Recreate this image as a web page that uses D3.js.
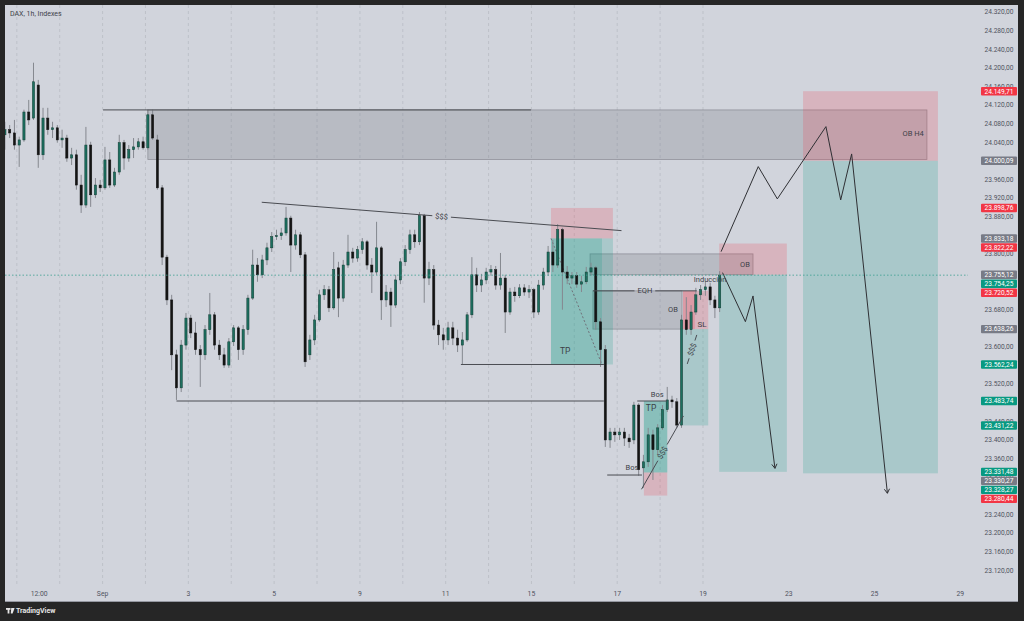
<!DOCTYPE html>
<html>
<head>
<meta charset="utf-8">
<script src="https://cdn.jsdelivr.net/npm/d3@7"></script>
<style>
  body { margin: 0; background: #262626; }
  svg { display: block; font-family: Roboto, "Liberation Sans", sans-serif; }
</style>
</head>
<body>
<svg id="chart" width="1024" height="621"></svg>
<script>
// DAX 1h candles (bar index = trading hour, 9 bars per session)
var opens = [
  24056,24067,24060,24034,24045,24105,24092,24163,24013,24092,
  24067,24071,24045,24049,24006,24013,23948,23905,24034,23927,
  23948,23942,24002,23948,23976,24039,24006,24024,24030,24041,
  24028,24099,24045,23942,23793,23701,23583,23512,23604,23662,
  23630,23594,23583,23637,23669,23604,23583,23561,23611,23641,
  23594,23637,23705,23776,23755,23787,23813,23837,23839,23845,
  23877,23819,23841,23798,23583,23615,23658,23712,23723,23684,
  23770,23705,23776,23804,23791,23809,23826,23776,23761,23813,
  23701,23718,23690,23744,23783,23809,23841,23826,23882,23748,
  23766,23647,23626,23615,23641,23619,23604,23615,23669,23755,
  23733,23744,23761,23766,23733,23748,23675,23718,23710,23727,
  23718,23723,23675,23733,23761,23804,23776,23852,23761,23748,
  23753,23735,23740,23761,23770,23654,23594,23400,23417,23411,
  23417,23404,23400,23475,23340,23353,23411,23379,23426,23465,
  23486,23482,23432,23658,23637,23675,23712,23723,23729,23701,
  23684];
var highs = [
  24084,24077,24088,24052,24110,24131,24211,24174,24114,24114,
  24084,24077,24067,24056,24028,24024,23970,24073,24041,23963,
  23959,24030,24019,23985,24056,24045,24034,24049,24049,24052,
  24110,24110,24056,23948,23798,23712,23594,23615,23673,23669,
  23654,23604,23647,23716,23675,23615,23598,23619,23647,23645,
  23647,23712,23809,23791,23798,23824,23847,23852,23856,23901,
  23882,23852,23847,23804,23626,23669,23723,23733,23731,23804,
  23783,23787,23841,23813,23817,23834,23830,23791,23869,23817,
  23733,23727,23755,23791,23819,23852,23852,23890,23886,23783,
  23776,23658,23641,23654,23654,23637,23632,23675,23793,23770,
  23757,23770,23776,23774,23802,23755,23727,23729,23735,23735,
  23733,23727,23744,23770,23817,23830,23864,23856,23774,23761,
  23761,23753,23772,23781,23774,23662,23604,23426,23426,23426,
  23426,23413,23482,23479,23368,23426,23422,23434,23475,23514,
  23495,23490,23669,23707,23690,23727,23733,23740,23738,23710,
  23763];
var lows = [
  24024,24049,24024,23987,24041,24077,24088,23985,24002,24056,
  24049,24039,24028,23998,23991,23938,23888,23899,23901,23920,
  23933,23938,23942,23944,23970,23981,23998,24006,24024,24024,
  24024,24045,23938,23776,23690,23550,23486,23503,23594,23619,
  23583,23514,23572,23626,23594,23572,23555,23555,23602,23572,
  23583,23626,23701,23740,23748,23776,23804,23830,23830,23839,
  23761,23809,23791,23557,23572,23604,23654,23701,23675,23680,
  23664,23697,23770,23781,23783,23800,23766,23716,23755,23658,
  23686,23643,23684,23735,23774,23800,23813,23819,23695,23733,
  23637,23604,23594,23604,23604,23589,23563,23611,23662,23718,
  23718,23735,23753,23723,23723,23630,23669,23697,23705,23710,
  23705,23662,23669,23723,23753,23761,23770,23680,23735,23735,
  23727,23718,23735,23753,23637,23557,23385,23383,23396,23400,
  23387,23383,23391,23323,23297,23342,23314,23368,23422,23460,
  23469,23426,23426,23626,23626,23669,23701,23710,23690,23662,
  23675];
var closes = [
  24067,24060,24034,24045,24105,24088,24170,24013,24092,24067,
  24071,24045,24049,24006,24013,23948,23905,24034,23927,23948,
  23942,24002,23948,23976,24039,24006,24024,24030,24041,24028,
  24099,24049,23942,23793,23701,23583,23512,23604,23662,23630,
  23594,23583,23637,23669,23604,23583,23561,23611,23641,23594,
  23637,23705,23776,23755,23787,23813,23837,23839,23845,23877,
  23819,23841,23798,23568,23615,23658,23712,23723,23684,23766,
  23705,23776,23804,23791,23809,23826,23776,23761,23813,23701,
  23718,23690,23744,23783,23809,23841,23826,23882,23748,23766,
  23647,23626,23615,23641,23619,23604,23615,23669,23755,23733,
  23744,23761,23766,23733,23748,23675,23718,23710,23727,23718,
  23723,23675,23733,23761,23804,23776,23852,23761,23748,23753,
  23735,23740,23761,23770,23654,23594,23400,23417,23411,23417,
  23404,23396,23475,23336,23353,23411,23379,23426,23465,23486,
  23482,23432,23658,23637,23675,23712,23723,23729,23701,23684,
  23754.25];
var lastPrice = 23754.25;

// session breaks and time axis labels (in bar units)
var dayBreaks = [2.5, 11.5, 20.5, 29.5, 38.5, 47.5, 56.5, 65.5, 74.5, 83.5, 92.5, 101.5, 110.5, 119.5, 128.5, 137.5, 146.5];
var timeLabels = ["12:00", "Sep", "3", "5", "9", "11", "15", "17", "19", "23", "25", "29"];
var timeLabelBars = [7.2, 20.5, 38.5, 56.5, 74.5, 92.5, 110.5, 128.5, 146.5, 164.5, 182.5, 200.5];

var priceTicks = [24320, 24280, 24240, 24200, 24160, 24120, 24080, 24040, 24000, 23960, 23920,
  23880, 23840, 23800, 23760, 23720, 23680, 23640, 23600, 23560, 23520, 23480, 23440, 23400,
  23360, 23320, 23280, 23240, 23200, 23160, 23120];

// price labels on the right scale
var tagPrices = [24149.71, 24000.09, 23898.76, 23833.18, 23822.22, 23755.12, 23754.25, 23720.52,
  23638.26, 23562.24, 23483.74, 23431.22, 23331.48, 23330.27, 23328.27, 23280.44];
var tagKinds = ["stop", "entry", "stop", "entry", "stop", "entry", "last", "stop",
  "entry", "target", "target", "target", "target", "entry", "target", "stop"];

// drawings, in bar / price units
var grayZones = [
  {x1: 30, x2: 193.5, p1: 24003, p2: 24109.5},
  {x1: 122.8, x2: 157, p1: 23755.12, p2: 23800},
  {x1: 123.4, x2: 142.1, p1: 23638.26, p2: 23720.52}
];
var positions = [
  {x1: 114.6, x2: 127.6, stop: 23898.76, entry: 23833.18, target: 23562.24, closeBar: 125.3, hit: "target", path: true},
  {x1: 134.1, x2: 139, stop: 23280.44, entry: 23330.27, target: 23483.74, closeBar: 139, hit: "target"},
  {x1: 142.3, x2: 147.6, stop: 23720.52, entry: 23638.26, target: 23431.22, closeBar: 144.8, hit: "stop"},
  {x1: 149.9, x2: 164.1, stop: 23822.22, entry: 23755.12, target: 23331.48},
  {x1: 167.5, x2: 195.8, stop: 24149.71, entry: 24000.09, target: 23328.27}
];
var lines = [
  {x1: 20.6, p1: 24109.5, x2: 110.4, p2: 24109.5},
  {x1: 53.9, p1: 23911, x2: 129.4, p2: 23850, label: "$$$"},
  {x1: 36, p1: 23483.74, x2: 125.7, p2: 23483.74},
  {x1: 95.7, p1: 23562.24, x2: 125.7, p2: 23562.24},
  {x1: 123.4, p1: 23720.52, x2: 145.2, p2: 23720.52, label: "EQH"},
  {x1: 132.7, p1: 23483.74, x2: 139, p2: 23483.74},
  {x1: 126.4, p1: 23324.6, x2: 133.7, p2: 23324.6},
  {x1: 133.6, p1: 23294, x2: 142.4, p2: 23451.6, label: "$$$"},
  {x1: 143.2, p1: 23563.4, x2: 145.2, p2: 23625.8, label: "$$$"}
];
var pathLong = [[150.3, 23804.8], [158.1, 23987.6], [162.1, 23918.2], [172.3, 24073.6],
  [175.4, 23916], [177.7, 24014.9], [185.2, 23285.4]];
var pathShort = [[150.6, 23759.7], [155.4, 23654.3], [157, 23709.6], [161.6, 23339]];
var notes = [
  {text: "TP", bar: 117.6, price: 23591, size: 8.5},
  {text: "TP", bar: 135.6, price: 23469, size: 8.5},
  {text: "OB", bar: 155.3, price: 23778, size: 7.5},
  {text: "OB", bar: 140.2, price: 23681, size: 7.5},
  {text: "SL", bar: 146.3, price: 23649, size: 8},
  {text: "Bos", bar: 136.9, price: 23497, size: 7.5},
  {text: "Bos", bar: 131.6, price: 23340, size: 7.5},
  {text: "OB H4", bar: 190.6, price: 24058, size: 7.5},
  {text: "Inducción", bar: 148, price: 23746, size: 7.5}
];

var svg = d3.select("#chart");
var x = d3.scaleLinear().domain([0, 200.5]).range([4.9, 960.3]);
var y = d3.scaleLinear().domain([23120, 24320]).range([570.2, 12]);
var de = d3.formatLocale({decimal: ",", thousands: ".", grouping: [3], currency: ["", ""]});
var fmt = de.format(",.2f");

var pinkFill = "rgba(242,54,69,0.2)";
var tealFill = "rgba(8,153,129,0.2)";
var lineColor = "#4a4c52";
var textColor = "#3d3f47";

// panel
svg.append("rect").attr("width", 1024).attr("height", 621).attr("fill", "#262626");
svg.append("rect").attr("x", 5).attr("y", 5).attr("width", 1013).attr("height", 597).attr("fill", "#d1d4dc");
svg.append("line").attr("x1", 5).attr("x2", 1018).attr("y1", 601.5).attr("y2", 601.5)
  .attr("stroke", "#9598a1").attr("stroke-width", 1);

svg.append("defs").append("clipPath").attr("id", "plotClip")
  .append("rect").attr("x", 5).attr("y", 5).attr("width", 963).attr("height", 576);

// session grid
svg.selectAll("line.grid").data(dayBreaks).enter().append("line")
  .attr("class", "grid")
  .attr("x1", d => x(d)).attr("x2", d => x(d))
  .attr("y1", 5).attr("y2", 586)
  .attr("stroke", "#b9bcc4").attr("stroke-width", 0.8).attr("stroke-dasharray", "3,3");

var plot = svg.append("g").attr("clip-path", "url(#plotClip)");

function zone(g, x1, x2, p1, p2, fill, stroke) {
  return g.append("rect")
    .attr("x", x(x1)).attr("width", x(x2) - x(x1))
    .attr("y", y(Math.max(p1, p2))).attr("height", Math.abs(y(p1) - y(p2)))
    .attr("fill", fill)
    .attr("stroke", stroke || "none").attr("stroke-width", stroke ? 0.8 : 0);
}

// order blocks
grayZones.forEach(function(z) {
  zone(plot, z.x1, z.x2, z.p1, z.p2, "rgba(120,123,134,0.28)", "rgba(110,112,120,0.6)");
});

// long / short position tools
positions.forEach(function(p) {
  zone(plot, p.x1, p.x2, p.entry, p.stop, pinkFill);
  zone(plot, p.x1, p.x2, p.entry, p.target, tealFill);
  if (p.hit) {
    var lvl = p.hit === "target" ? p.target : p.stop;
    zone(plot, p.x1, p.closeBar, p.entry, lvl, p.hit === "target" ? tealFill : pinkFill);
  }
  if (p.path) {
    plot.append("line")
      .attr("x1", x(p.x1)).attr("y1", y(p.entry))
      .attr("x2", x(p.closeBar)).attr("y2", y(p.target))
      .attr("stroke", "#6f727a").attr("stroke-width", 1).attr("stroke-dasharray", "2,2");
  }
});

// candles
var bars = d3.range(closes.length);
plot.selectAll("line.wick").data(bars).enter().append("line")
  .attr("class", "wick")
  .attr("x1", i => x(i)).attr("x2", i => x(i))
  .attr("y1", i => y(highs[i])).attr("y2", i => y(lows[i]))
  .attr("stroke", "#85888f").attr("stroke-width", 1);
plot.selectAll("rect.body").data(bars).enter().append("rect")
  .attr("class", "body")
  .attr("x", i => x(i) - 1.1).attr("width", 2.2)
  .attr("y", i => y(Math.max(opens[i], closes[i])))
  .attr("height", i => Math.max(1, Math.abs(y(opens[i]) - y(closes[i]))))
  .attr("fill", i => closes[i] >= opens[i] ? "#1d6f5f" : "#141414")
  .attr("stroke", i => closes[i] >= opens[i] ? "#0f3a31" : "#141414")
  .attr("stroke-width", 0.5);

// lines, with text cut into the line where there is a label
lines.forEach(function(d) {
  var ax = x(d.x1), ay = y(d.p1), bx = x(d.x2), by = y(d.p2);
  if (!d.label) {
    plot.append("line").attr("x1", ax).attr("y1", ay).attr("x2", bx).attr("y2", by)
      .attr("stroke", lineColor).attr("stroke-width", 1);
    return;
  }
  var len = Math.hypot(bx - ax, by - ay), ux = (bx - ax) / len, uy = (by - ay) / len;
  var mx = (ax + bx) / 2, my = (ay + by) / 2;
  var ang = Math.atan2(uy, ux) * 180 / Math.PI;
  if (ang > 90) ang -= 180;
  if (ang < -90) ang += 180;
  var t = plot.append("text").text(d.label)
    .attr("text-anchor", "middle").attr("dy", "0.35em")
    .attr("font-size", 7.5).attr("fill", textColor)
    .attr("transform", "translate(" + mx + "," + my + ") rotate(" + ang + ")");
  var gap = t.node().getComputedTextLength() / 2 + 3;
  plot.append("line").attr("x1", ax).attr("y1", ay)
    .attr("x2", mx - ux * gap).attr("y2", my - uy * gap)
    .attr("stroke", lineColor).attr("stroke-width", 1);
  plot.append("line").attr("x1", mx + ux * gap).attr("y1", my + uy * gap)
    .attr("x2", bx).attr("y2", by)
    .attr("stroke", lineColor).attr("stroke-width", 1);
});

// projected paths with open arrow heads
var pathLine = d3.line().x(d => x(d[0])).y(d => y(d[1]));
[pathLong, pathShort].forEach(function(pts) {
  plot.append("path").attr("d", pathLine(pts))
    .attr("fill", "none").attr("stroke", "#2f3034").attr("stroke-width", 1);
  var a = pts[pts.length - 2], b = pts[pts.length - 1];
  var ex = x(b[0]), ey = y(b[1]);
  var ang = Math.atan2(ey - y(a[1]), ex - x(a[0]));
  [0.55, -0.55].forEach(function(off) {
    plot.append("line")
      .attr("x1", ex).attr("y1", ey)
      .attr("x2", ex - 5 * Math.cos(ang + off)).attr("y2", ey - 5 * Math.sin(ang + off))
      .attr("stroke", "#2f3034").attr("stroke-width", 1);
  });
});

// current price line
plot.append("line").attr("x1", 5).attr("x2", 968)
  .attr("y1", y(lastPrice)).attr("y2", y(lastPrice))
  .attr("stroke", "#3a9e8f").attr("stroke-width", 0.8).attr("stroke-dasharray", "1.5,2");

// text notes
plot.selectAll("text.note").data(notes).enter().append("text")
  .attr("class", "note")
  .attr("x", d => x(d.bar)).attr("y", d => y(d.price))
  .attr("dy", "0.35em").attr("text-anchor", "middle")
  .attr("font-size", d => d.size).attr("fill", textColor)
  .text(d => d.text);

// right scale tags, stacked so they do not overlap
var tagColor = {stop: "#f23645", entry: "#787b86", target: "#089981", last: "#089981"};
var tags = tagPrices.map((p, i) => ({price: p, kind: tagKinds[i], cy: y(p)}))
  .sort((a, b) => a.cy - b.cy);
var tagH = 9;
for (var k = 1; k < tags.length; k++) {
  if (tags[k].cy < tags[k - 1].cy + tagH) tags[k].cy = tags[k - 1].cy + tagH;
}

// price scale ticks; the ones sitting under a tag are covered by it
var visibleTicks = priceTicks.filter(function(p) {
  return !tags.some(t => Math.abs(t.cy - y(p)) < 3.6);
});
svg.selectAll("text.ptick").data(visibleTicks).enter().append("text")
  .attr("class", "ptick")
  .attr("x", 999).attr("y", d => y(d)).attr("dy", "0.35em")
  .attr("text-anchor", "middle").attr("font-size", 6.6).attr("fill", "#50535e")
  .text(d => fmt(d));

var tagG = svg.selectAll("g.tag").data(tags).enter().append("g").attr("class", "tag");
tagG.append("rect")
  .attr("x", 981).attr("width", 36).attr("y", d => d.cy - tagH / 2 + 0.3).attr("height", tagH - 0.6)
  .attr("rx", 1).attr("fill", d => tagColor[d.kind]);
tagG.append("text")
  .attr("x", 999).attr("y", d => d.cy).attr("dy", "0.35em")
  .attr("text-anchor", "middle").attr("font-size", 6.6).attr("fill", "#ffffff")
  .text(d => fmt(d.price));

// time scale
svg.selectAll("text.ttick").data(timeLabels).enter().append("text")
  .attr("class", "ttick")
  .attr("x", (d, i) => x(timeLabelBars[i])).attr("y", 594).attr("dy", "0.35em")
  .attr("text-anchor", "middle").attr("font-size", 6.8).attr("fill", "#50535e")
  .text(d => d);

// header and footer
svg.append("text").attr("x", 10).attr("y", 14).attr("dy", "0.35em")
  .attr("font-size", 7).attr("fill", "#40434b").text("DAX, 1h, Indexes");
var logo = svg.append("g").attr("fill", "#e6e6e6");
logo.append("rect").attr("x", 6).attr("y", 608).attr("width", 4.5).attr("height", 1.8);
logo.append("rect").attr("x", 7.6).attr("y", 608).attr("width", 1.8).attr("height", 5.5);
logo.append("path").attr("d", "M11.2,608 L14.6,608 L12.6,613.5 L10.8,613.5 Z");
svg.append("text").attr("x", 16).attr("y", 611).attr("dy", "0.35em")
  .attr("font-size", 7).attr("font-weight", "bold").attr("fill", "#e6e6e6").text("TradingView");
</script>
</body>
</html>
